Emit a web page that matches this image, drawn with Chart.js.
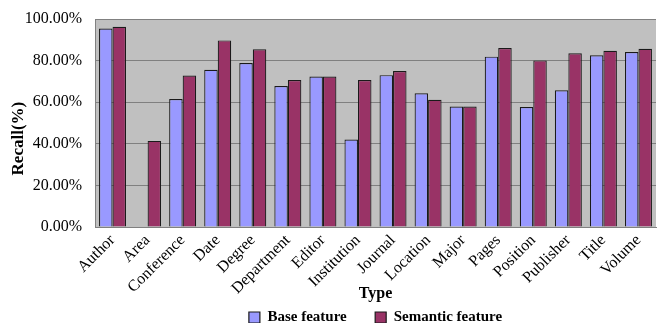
<!DOCTYPE html>
<html>
<head>
<meta charset="utf-8">
<script src="https://cdn.jsdelivr.net/npm/chart.js@4/dist/chart.umd.min.js"></script>
<style>
  html, body { margin: 0; padding: 0; background: #fff; }
  #wrap { width: 657px; height: 323px; }
</style>
</head>
<body>
<div id="wrap"><canvas id="grafico" width="657" height="323"></canvas></div>
<script>
// categorias del eje x
const tipos = ['Author', 'Area', 'Conference', 'Date', 'Degree', 'Department', 'Editor', 'Institution',
  'Journal', 'Location', 'Major', 'Pages', 'Position', 'Publisher', 'Title', 'Volume'];

// recall (%)
const baseFeature = [95.4, 0, 61.5, 75.6, 78.8, 67.8, 72.3, 42.1, 73.0, 64.3, 57.9, 81.9, 57.7, 65.7, 82.6, 84.1];
const semanticFeature = [96.3, 41.4, 72.8, 89.7, 85.4, 70.7, 72.3, 70.7, 75.0, 61.2, 57.9, 86.0, 80.1, 83.5, 84.7, 85.7];

// marcas del eje y
const ticksY = [0, 20, 40, 60, 80, 100];

const fuente = '"Liberation Serif", "Times New Roman", serif';

// fondo gris del area de trazado
const fondoPlot = {
  id: 'fondoPlot',
  beforeDraw(chart) {
    const { ctx, chartArea: a } = chart;
    ctx.save();
    ctx.fillStyle = '#C0C0C0';
    ctx.fillRect(a.left, a.top, a.right - a.left, a.bottom - a.top);
    ctx.strokeStyle = '#808080';
    ctx.lineWidth = 1;
    ctx.beginPath();
    ctx.moveTo(a.left, a.top + 0.5);
    ctx.lineTo(a.right, a.top + 0.5);
    ctx.stroke();
    ctx.restore();
  }
};

// titulo del eje y, un poco mas abajo que el centro como en el original
const tituloY = {
  id: 'tituloY',
  afterDraw(chart) {
    const { ctx, chartArea: a } = chart;
    ctx.save();
    ctx.translate(19, a.top + (a.bottom - a.top) * 0.575);
    ctx.rotate(-Math.PI / 2);
    ctx.font = 'bold 17px ' + fuente;
    ctx.fillStyle = '#000';
    ctx.textAlign = 'center';
    ctx.textBaseline = 'middle';
    ctx.fillText('Recall(%)', 0, 0);
    ctx.restore();
  }
};

const ctx = document.getElementById('grafico').getContext('2d');
new Chart(ctx, {
  type: 'bar',
  data: {
    labels: tipos,
    datasets: [{
      label: 'Base feature',
      data: baseFeature,
      backgroundColor: '#9999FF',
      borderColor: '#1a1a1a',
      borderWidth: 1.2
    }, {
      label: 'Semantic feature',
      data: semanticFeature,
      backgroundColor: '#993366',
      borderColor: '#1a1a1a',
      borderWidth: 1.2
    }]
  },
  options: {
    responsive: false,
    animation: false,
    layout: { padding: { top: 19, right: 1, left: 10, bottom: 0 } },
    datasets: { bar: { barPercentage: 1, categoryPercentage: 0.77 } },
    plugins: {
      legend: {
        position: 'bottom',
        fullSize: false,
        maxHeight: 19,
        labels: {
          color: '#000',
          font: { family: fuente, size: 15, weight: 'bold' },
          boxWidth: 11,
          boxHeight: 11,
          padding: 6,
          // espacio extra entre las dos entradas de la leyenda
          generateLabels(chart) {
            const items = Chart.defaults.plugins.legend.labels.generateLabels(chart);
            items.forEach((it, i) => {
              it.lineWidth = 1.2;
              if (i < items.length - 1) it.text = it.text + '      ';
            });
            return items;
          }
        }
      },
      tooltip: { enabled: false }
    },
    scales: {
      x: {
        grid: { display: false, drawTicks: false },
        border: { color: '#808080' },
        ticks: {
          color: '#000',
          font: { family: fuente, size: 16 },
          minRotation: 45,
          maxRotation: 45,
          padding: 4,
          autoSkip: false
        },
        title: {
          display: true,
          text: 'Type',
          color: '#000',
          font: { family: fuente, size: 16, weight: 'bold' },
          padding: { top: 0, bottom: 1 }
        },
        afterFit(scale) {
          scale.height = 77;
          scale.paddingRight = 0;
        }
      },
      y: {
        min: 0,
        max: 100,
        afterBuildTicks(scale) { scale.ticks = ticksY.map(v => ({ value: v })); },
        grid: { color: '#808080', lineWidth: 1, drawTicks: false },
        border: { color: '#808080' },
        ticks: {
          color: '#000',
          font: { family: fuente, size: 16 },
          padding: 13,
          callback: v => v.toFixed(2) + '%'
        },
        title: { display: false },
        afterFit(scale) {
          scale.width = 85;
          scale.paddingTop = 0;
        }
      }
    }
  },
  plugins: [fondoPlot, tituloY]
});
</script>
</body>
</html>
